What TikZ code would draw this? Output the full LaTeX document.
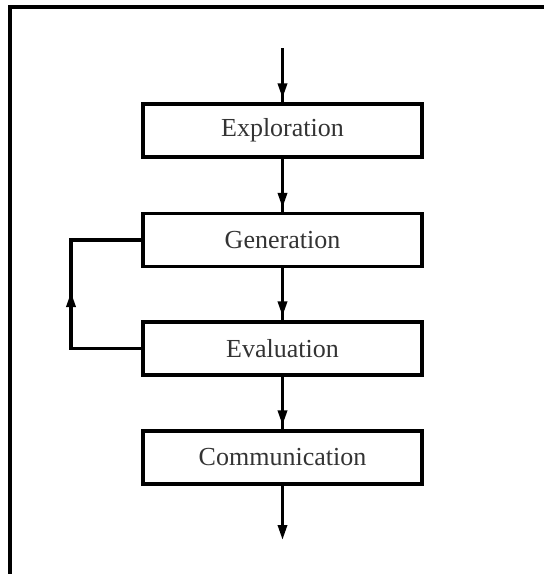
\documentclass[tikz,border=0pt]{standalone}
\usepackage{fontspec}
\setmainfont{Liberation Serif}
\usetikzlibrary{arrows.meta}
\begin{document}
\begin{tikzpicture}[x=1pt,y=-1pt,
  stagebox/.style={draw=black, line width=3.2pt, minimum width=279pt, minimum height=53pt,
    inner sep=0pt, font=\fontsize{26}{30}\selectfont, text=black!80},
  conn/.style={line width=3.2pt},
  arr/.style={line width=3.2pt, -{Triangle[length=15pt,width=9pt]}}
]
\useasboundingbox (0,0) rectangle (544,574);
% frame (open on right and bottom)
\draw[line width=3.2pt] (10,574) -- (10,7) -- (544,7);

\node[stagebox] (e) at (282.5,130.5) {Exploration};
\node[stagebox] (g) at (282.5,240) {Generation};
\node[stagebox] (v) at (282.5,348.5) {Evaluation};
\node[stagebox] (c) at (282.5,457.5) {Communication};

\coordinate (in) at (282.5,48);
\coordinate (out) at (282.5,540);
\coordinate (lt) at (71,240);
\coordinate (lb) at (71,348.5);
\coordinate (lm) at (71,292);

\draw[conn] (in) -- (e.north);
\draw[arr, shorten >=4pt] (in) -- (e.north);
\draw[conn] (e.south) -- (g.north);
\draw[arr, shorten >=4pt] (e.south) -- (g.north);
\draw[conn] (g.south) -- (v.north);
\draw[arr, shorten >=4pt] (g.south) -- (v.north);
\draw[conn] (v.south) -- (c.north);
\draw[arr, shorten >=4pt] (v.south) -- (c.north);
\draw[arr] (c.south) -- (out);

\draw[conn] (v.west) -- (lb) -- (lt) -- (g.west);
\draw[arr] (lb) -- (lm);
\end{tikzpicture}
\end{document}
